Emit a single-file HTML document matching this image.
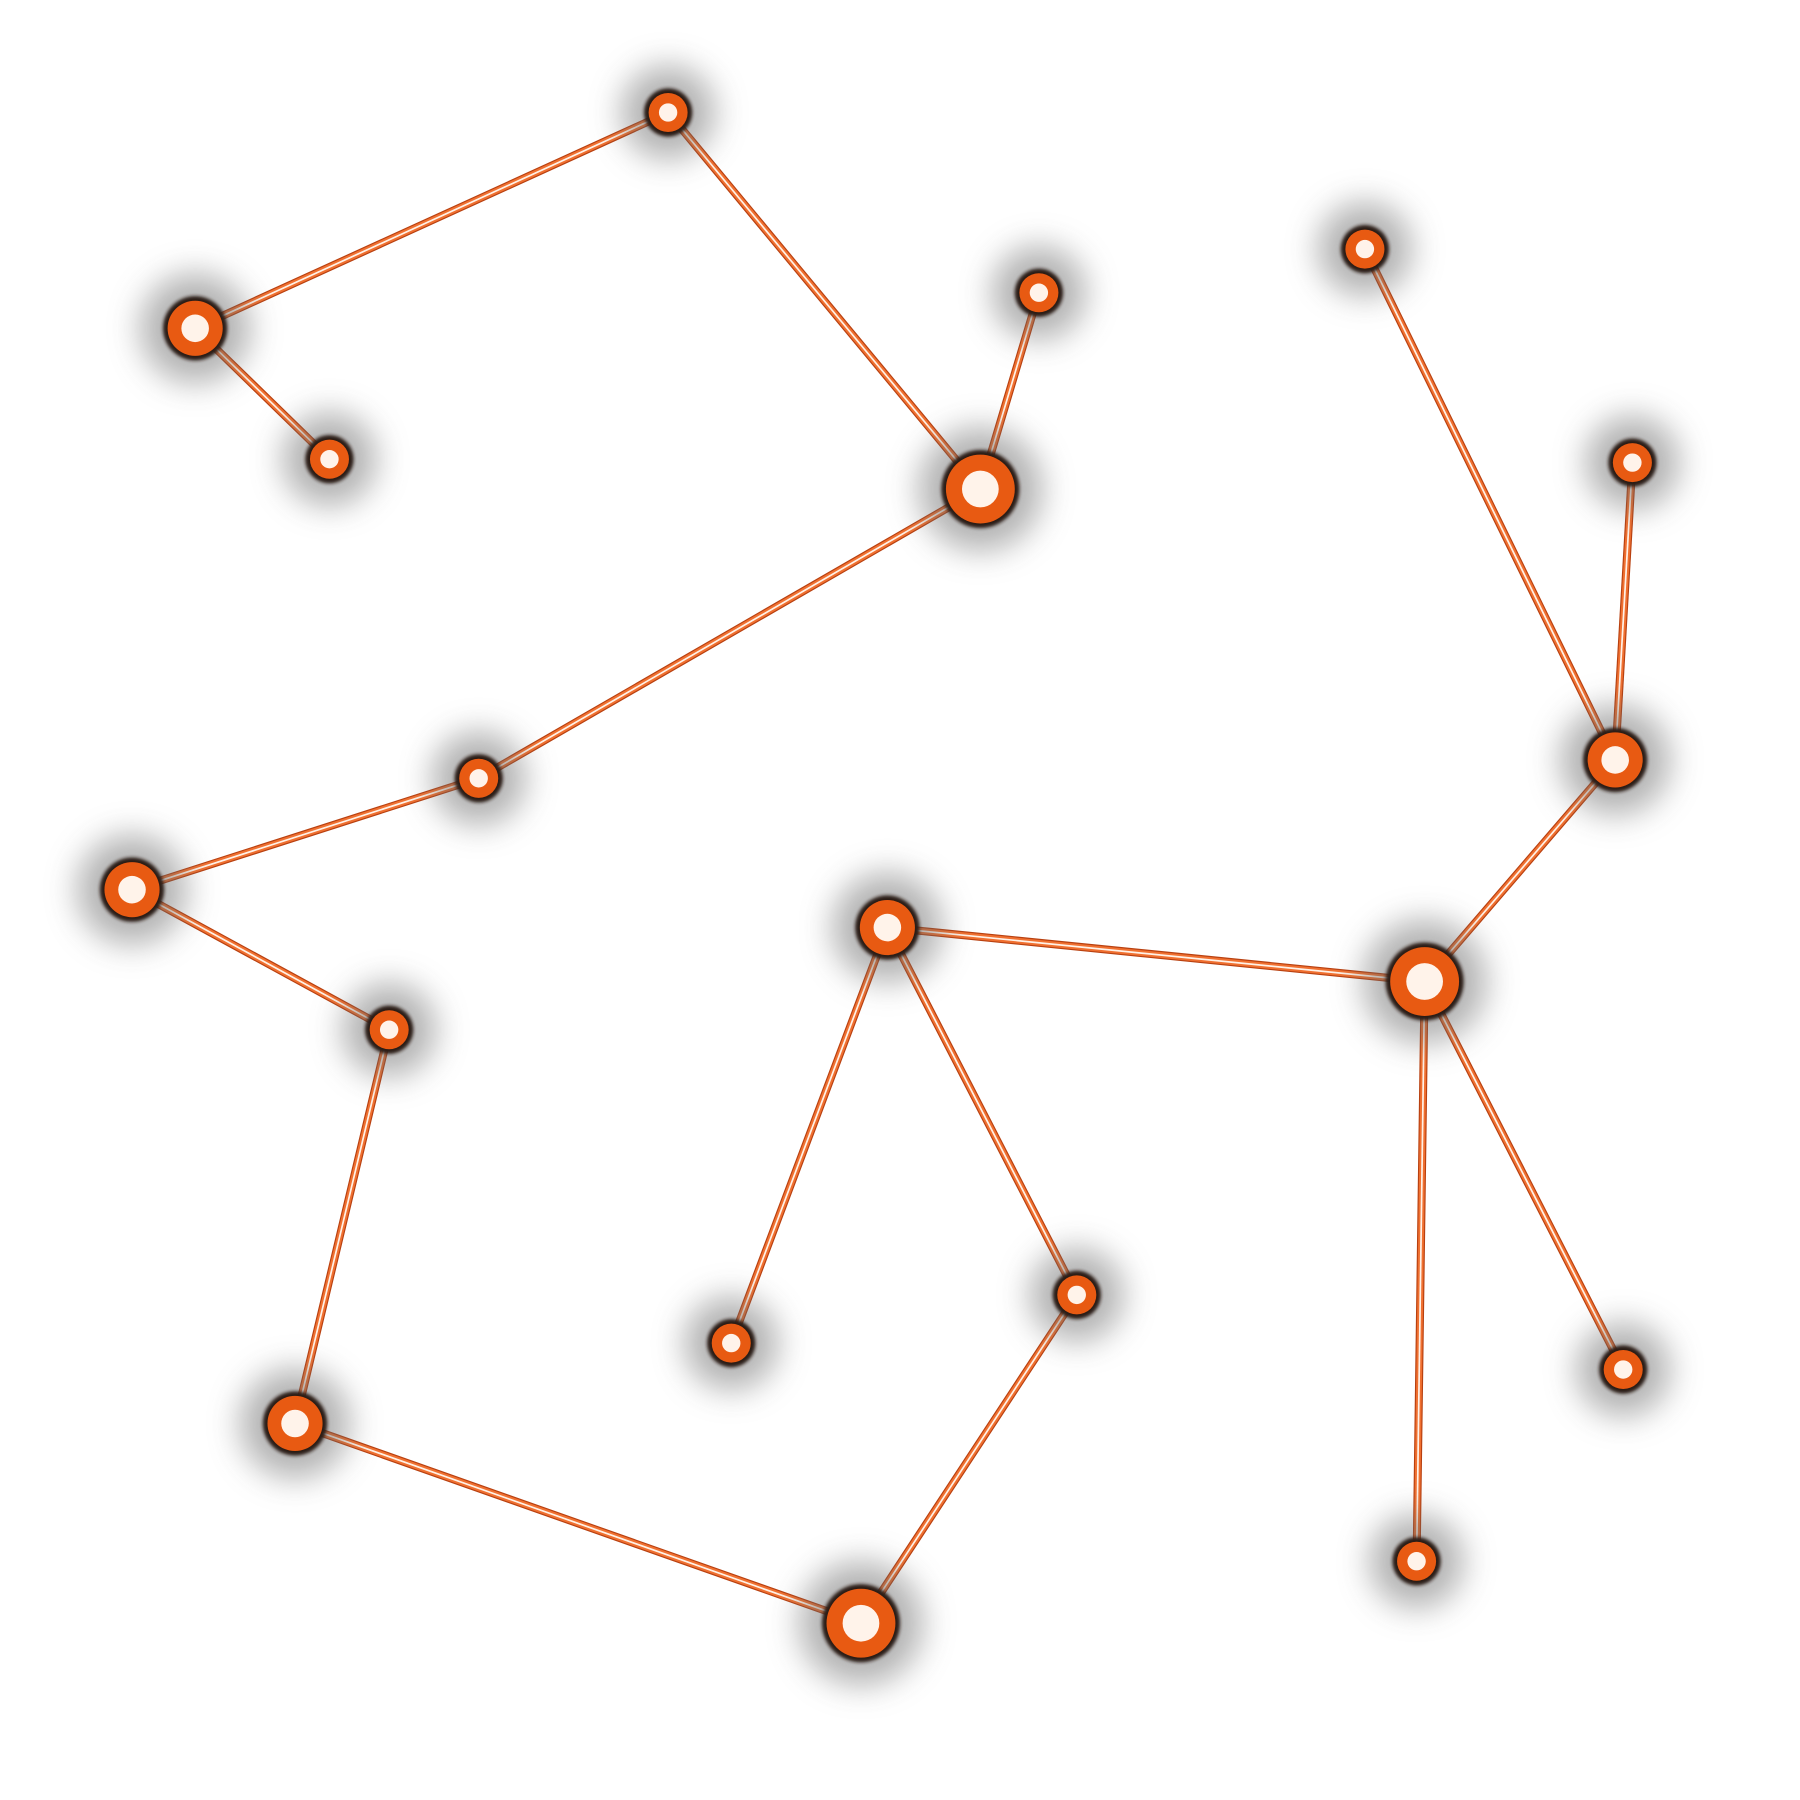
<!DOCTYPE html>
<html><head><meta charset="utf-8"><style>html,body{margin:0;padding:0;background:#fff;width:1800px;height:1800px;overflow:hidden}</style></head>
<body>
<svg id="chart" width="1800" height="1800" viewBox="0 0 1568 1568" preserveAspectRatio="none" xmlns="http://www.w3.org/2000/svg">
<defs>
<filter id="blur" x="-100%" y="-100%" width="300%" height="300%"><feGaussianBlur stdDeviation="14"/></filter>
<filter id="blur2" x="-50%" y="-50%" width="200%" height="200%"><feGaussianBlur stdDeviation="1.5"/></filter>
</defs>
<g id="edges"></g><g id="nodes"></g>
</svg>
<script>
const nodeX=[170,287,582,905,854,1189,1422,1407,417,115,773,1241,339,938,637,1414,257,1234,750];
const nodeY=[286,400,98,255,426,217,403,662,678,775,808,855,897,1128,1170,1193,1240,1360,1414];
const nodeSize=[2,1,1,1,3,1,1,2,1,2,2,3,1,1,1,1,2,1,3];
const edgeFrom=[1,0,2,4,4,8,9,12,16,18,13,10,10,11,7,7,11,11];
const edgeTo=[0,2,4,3,8,9,12,16,18,13,10,14,11,7,5,6,17,15];
const NS="http://www.w3.org/2000/svg";
const sx=i=>nodeX[i], sy=i=>nodeY[i];
const eg=document.getElementById('edges'), ng=document.getElementById('nodes');
function mk(t,a,p){const e=document.createElementNS(NS,t);for(const k in a)e.setAttribute(k,a[k]);p.appendChild(e);return e;}
for(let k=0;k<edgeFrom.length;k++){
  const a=edgeFrom[k],b=edgeTo[k];
  const g=mk('g',{},eg);
  
  
  mk('line',{x1:sx(a),y1:sy(a),x2:sx(b),y2:sy(b),stroke:'#b84010',"stroke-width":7,"stroke-linecap":"round"},g);
  mk('line',{x1:sx(a),y1:sy(a),x2:sx(b),y2:sy(b),stroke:'#f07030',"stroke-width":5,"stroke-linecap":"round"},g);
  mk('line',{x1:sx(a),y1:sy(a),x2:sx(b),y2:sy(b),stroke:'#fff1e6',"stroke-width":1.5},g);
}
for(let i=0;i<nodeX.length;i++){
  const s=nodeSize[i], R=[0,21,28,34][s], r=[0,8,12,16][s];
  const g=mk('g',{},ng);
  
  
  mk('circle',{cx:sx(i),cy:sy(i),r:R+20,fill:'#666',opacity:0.5,filter:'url(#blur)'},g);
  mk('circle',{cx:sx(i),cy:sy(i),r:R,fill:'#2a1a14',filter:'url(#blur2)'},g);
  mk('circle',{cx:sx(i),cy:sy(i),r:R-4,fill:'#e85a12'},g);
  mk('circle',{cx:sx(i),cy:sy(i),r:r,fill:'#fff3ea'},g);
}
</script>
</body></html>
